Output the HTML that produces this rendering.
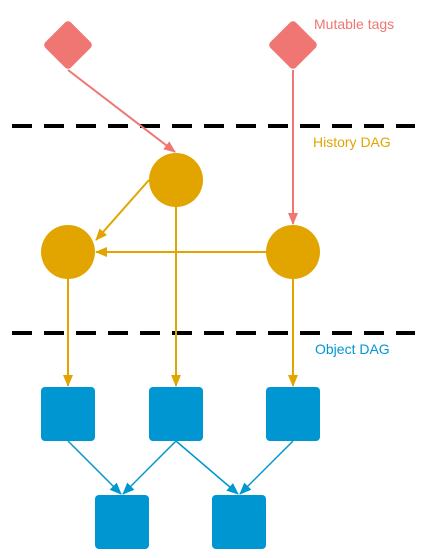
<!DOCTYPE html>
<html><head><style>body{margin:0;background:#fff}svg{display:block}</style></head><body>
<svg width="427" height="558" viewBox="0 0 427 558" xmlns="http://www.w3.org/2000/svg" font-family="Liberation Sans, sans-serif">
<defs>
<marker id="r" markerWidth="12" markerHeight="10" refX="11" refY="5" orient="auto" markerUnits="userSpaceOnUse"><path d="M0,0 L12,5 L0,10 z" fill="#ef7672"/></marker>
<marker id="o" markerWidth="12" markerHeight="10" refX="11" refY="5" orient="auto" markerUnits="userSpaceOnUse"><path d="M0,0 L12,5 L0,10 z" fill="#e2a500"/></marker>
<marker id="b" markerWidth="12" markerHeight="10" refX="11" refY="5" orient="auto" markerUnits="userSpaceOnUse"><path d="M0,0 L12,5 L0,10 z" fill="#0096d2"/></marker>
</defs>
<g stroke="#000" stroke-width="4" stroke-dasharray="20 12">
<line x1="12" y1="126" x2="415" y2="126"/>
<line x1="12" y1="333" x2="415" y2="333"/>
</g>
<g fill="#ef7672">
<rect x="50" y="27" width="36" height="36" rx="4" transform="rotate(45 68 45)"/>
<rect x="275" y="27" width="36" height="36" rx="4" transform="rotate(45 293 45)"/>
</g>
<g stroke="#ef7672" stroke-width="2" fill="none">
<line x1="68" y1="70" x2="175" y2="152" marker-end="url(#r)"/>
<line x1="293" y1="70" x2="293" y2="224" marker-end="url(#r)"/>
</g>
<g stroke="#e2a500" stroke-width="2" fill="none">
<line x1="149" y1="180" x2="96" y2="240" marker-end="url(#o)"/>
<line x1="266" y1="252" x2="96" y2="252" marker-end="url(#o)"/>
<line x1="176" y1="206" x2="176" y2="386" marker-end="url(#o)"/>
<line x1="68" y1="279" x2="68" y2="386" marker-end="url(#o)"/>
<line x1="293" y1="279" x2="293" y2="386" marker-end="url(#o)"/>
</g>
<g fill="#e2a500">
<circle cx="176" cy="180" r="27"/>
<circle cx="68" cy="252" r="27"/>
<circle cx="293" cy="252" r="27"/>
</g>
<g fill="#0096d2">
<rect x="41" y="387" width="54" height="54" rx="4"/>
<rect x="149" y="387" width="54" height="54" rx="4"/>
<rect x="266" y="387" width="54" height="54" rx="4"/>
<rect x="95" y="495" width="54" height="54" rx="4"/>
<rect x="212" y="495" width="54" height="54" rx="4"/>
</g>
<g stroke="#0096d2" stroke-width="1.5" fill="none">
<line x1="68" y1="441" x2="121" y2="494" marker-end="url(#b)"/>
<line x1="176" y1="441" x2="123" y2="494" marker-end="url(#b)"/>
<line x1="176" y1="441" x2="238" y2="494" marker-end="url(#b)"/>
<line x1="293" y1="441" x2="240" y2="494" marker-end="url(#b)"/>
</g>
<text x="314" y="29" font-size="14" fill="#ef7672">Mutable tags</text>
<text x="313" y="147" font-size="14" fill="#e2a500">History DAG</text>
<text x="315" y="354" font-size="14" fill="#0096d2">Object DAG</text>
</svg>
</body></html>
